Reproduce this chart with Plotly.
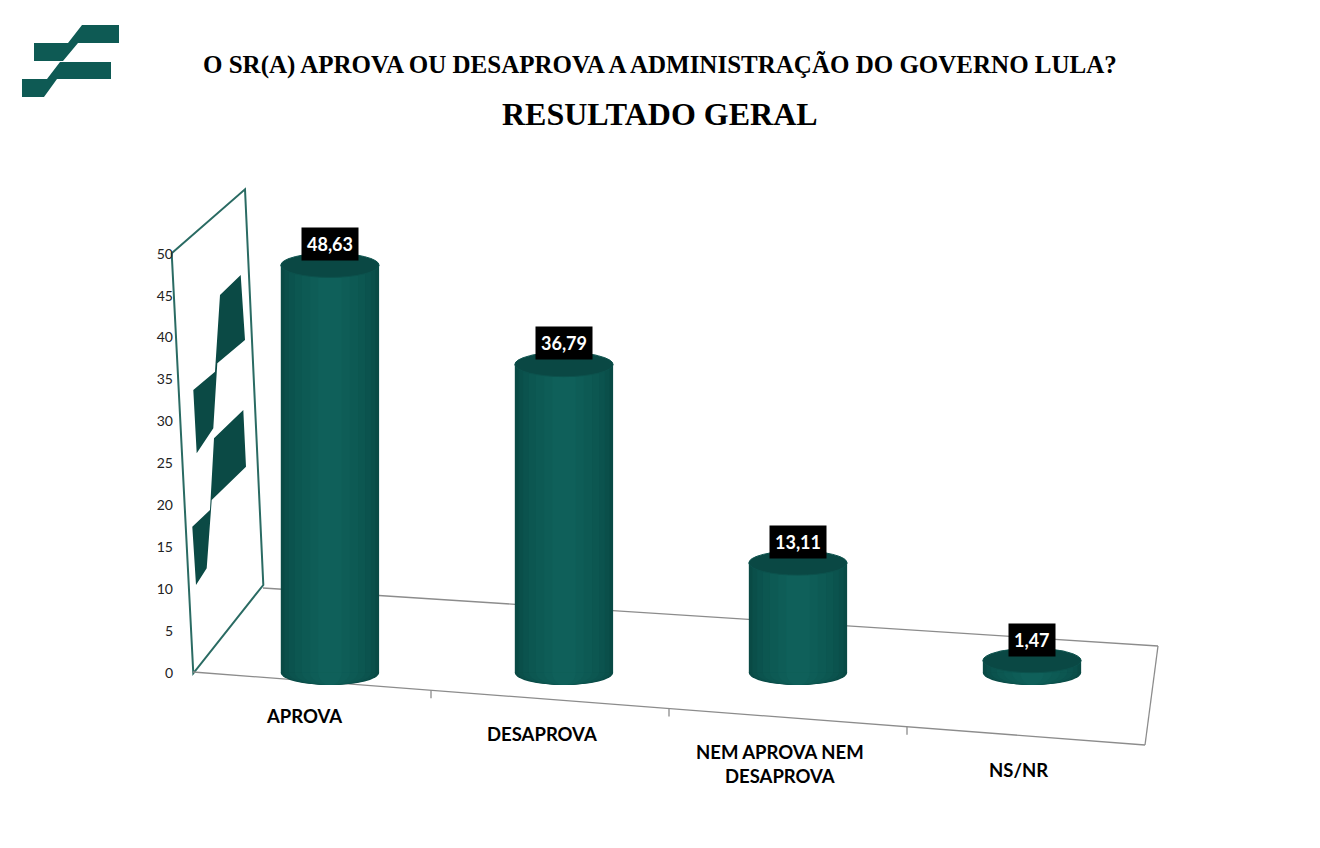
import plotly.graph_objects as go

# survey result (percent)
categories = ["APROVA", "DESAPROVA", "NEM APROVA NEM<br>DESAPROVA", "NS/NR"]
values = [48.63, 36.79, 13.11, 1.47]
y_ticks = [0, 5, 10, 15, 20, 25, 30, 35, 40, 45, 50]

# the page has an 8px body margin, so the figure is drawn a bit smaller
OFF = 8
W, H = 1320 - 2 * OFF, 848 - 2 * OFF
L, R, T, B = 190, 1160, 237, 698   # plot area in page pixels
PW, PH = R - L, B - T


def px(x):
    return (x - L) / PW


def py(y):
    return (B - y) / PH


def path(points):
    pts = " L ".join(f"{px(x):.5f},{py(y):.5f}" for x, y in points)
    return f"M {pts} Z"


xs = list(range(len(categories)))
bar_w = 0.42
cap_h = 1.45  # half height of the ellipses, in y units

# cylinder body: overlaid bars get lighter toward the middle
stripes = [(0.42, "#094a45"), (0.39, "#0a4f4a"), (0.35, "#0b534e"), (0.30, "#0c5751"),
           (0.24, "#0d5a54"), (0.17, "#0e5d57"), (0.10, "#0f605a")]

fig = go.Figure()
for w, c in stripes:
    fig.add_trace(go.Bar(x=xs, y=values, width=w, marker_color=c,
                         marker_line_width=0, hoverinfo="skip", showlegend=False))

shapes = []
# rounded bottoms of the cylinders
for i in xs:
    for w, c in stripes:
        shapes.append(dict(type="circle", xref="x", yref="y", layer="below",
                           x0=i - w / 2, x1=i + w / 2, y0=-cap_h, y1=cap_h,
                           fillcolor=c, line_width=0))
# tops
for i, v in zip(xs, values):
    shapes.append(dict(type="circle", xref="x", yref="y", layer="above",
                       x0=i - bar_w / 2, x1=i + bar_w / 2, y0=v - cap_h, y1=v + cap_h,
                       fillcolor="#0a4844", line=dict(color="#0c524d", width=1)))

# back wall and floor frame
wall = [(171.7, 253.3), (245, 189.3), (263.3, 585), (193.3, 673.3)]
shapes.append(dict(type="path", xref="paper", yref="paper", path=path(wall),
                   line=dict(color="#2a6b63", width=2), fillcolor="rgba(0,0,0,0)", layer="below"))
floor_front = [(193, 672), (1145, 745)]
floor_back = [(263, 588), (1158, 646)]
gray = dict(color="#8c8c8c", width=1.3)
for a, b in [floor_front, floor_back, [(1145, 745), (1158, 646)]]:
    shapes.append(dict(type="line", xref="paper", yref="paper", layer="below",
                       x0=px(a[0]), y0=py(a[1]), x1=px(b[0]), y1=py(b[1]), line=gray))


def front_y(x):
    (x0, y0), (x1, y1) = floor_front
    return y0 + (x - x0) * (y1 - y0) / (x1 - x0)


n = len(categories)
fx0, fx1 = floor_front[0][0], floor_front[1][0]
for k in range(1, n):
    tx = fx0 + k * (fx1 - fx0) / n
    shapes.append(dict(type="line", xref="paper", yref="paper",
                       x0=px(tx), y0=py(front_y(tx)), x1=px(tx), y1=py(front_y(tx) + 8), line=gray))

# watermark on the wall
wm_color = "#0b4a45"
wm_top = [(193.3, 390), (215, 371.7), (220, 295), (240.7, 275), (245, 340),
          (217.3, 363.3), (213.3, 428.3), (196.7, 453.3)]
wm_low = [(192.3, 526.7), (210, 510), (214, 438.3), (243.3, 410), (246, 466.7),
          (211.7, 500), (206.7, 568.3), (196, 585)]
for p in (wm_top, wm_low):
    shapes.append(dict(type="path", xref="paper", yref="paper", path=path(p),
                       fillcolor=wm_color, line_width=0, layer="below"))

# logo top-left
logo_top = [(34, 43), (68, 43), (82, 25), (119, 25), (119, 43), (78, 43), (63, 61), (34, 61)]
logo_low = [(22, 79), (47, 79), (60, 62), (111, 62), (111, 79), (57, 79), (44, 97), (22, 97)]
for p in (logo_top, logo_low):
    shapes.append(dict(type="path", xref="paper", yref="paper", path=path(p),
                       fillcolor="#0e5a54", line_width=0))

annotations = []
# value labels
for i, v in zip(xs, values):
    annotations.append(dict(x=i, y=v, xref="x", yref="y", yanchor="bottom", yshift=4,
                            text=f"<b>{v:.2f}</b>".replace(".", ","), showarrow=False,
                            bgcolor="black", borderpad=5,
                            font=dict(family="Lato", size=18, color="white")))
# category labels along the floor front edge
for k, cat in enumerate(categories):
    cx = fx0 + (k + 0.5) * (fx1 - fx0) / n - 8
    annotations.append(dict(x=px(cx), y=py(front_y(cx) + 22), xref="paper", yref="paper",
                            yanchor="top", xanchor="center", showarrow=False,
                            text=f"<b>{cat}</b>", align="center",
                            font=dict(family="Lato", size=18.5, color="black")))
# titles
annotations.append(dict(x=px(660), y=py(65), xref="paper", yref="paper", showarrow=False,
                        yanchor="middle",
                        text="<b>O SR(A) APROVA OU DESAPROVA A ADMINISTRAÇÃO DO GOVERNO LULA?</b>",
                        font=dict(family="Liberation Serif", size=25, color="black")))
annotations.append(dict(x=px(660), y=py(114), xref="paper", yref="paper", showarrow=False,
                        yanchor="middle",
                        text="<b>RESULTADO GERAL</b>",
                        font=dict(family="Liberation Serif", size=32, color="black")))

fig.update_layout(
    width=W, height=H,
    margin=dict(l=L - OFF, r=W + OFF - R, t=T - OFF, b=H + OFF - B),
    barmode="overlay",
    paper_bgcolor="white", plot_bgcolor="rgba(0,0,0,0)",
    xaxis=dict(range=[-0.598, 3.547], visible=False),
    yaxis=dict(range=[-3, 52], tickvals=y_ticks, showgrid=False, zeroline=False,
               showline=False, ticks="", ticklabelstandoff=16,
               tickfont=dict(family="Lato", size=14, color="#222")),
    shapes=shapes,
    annotations=annotations,
    showlegend=False,
)

fig.write_html("out.html")
